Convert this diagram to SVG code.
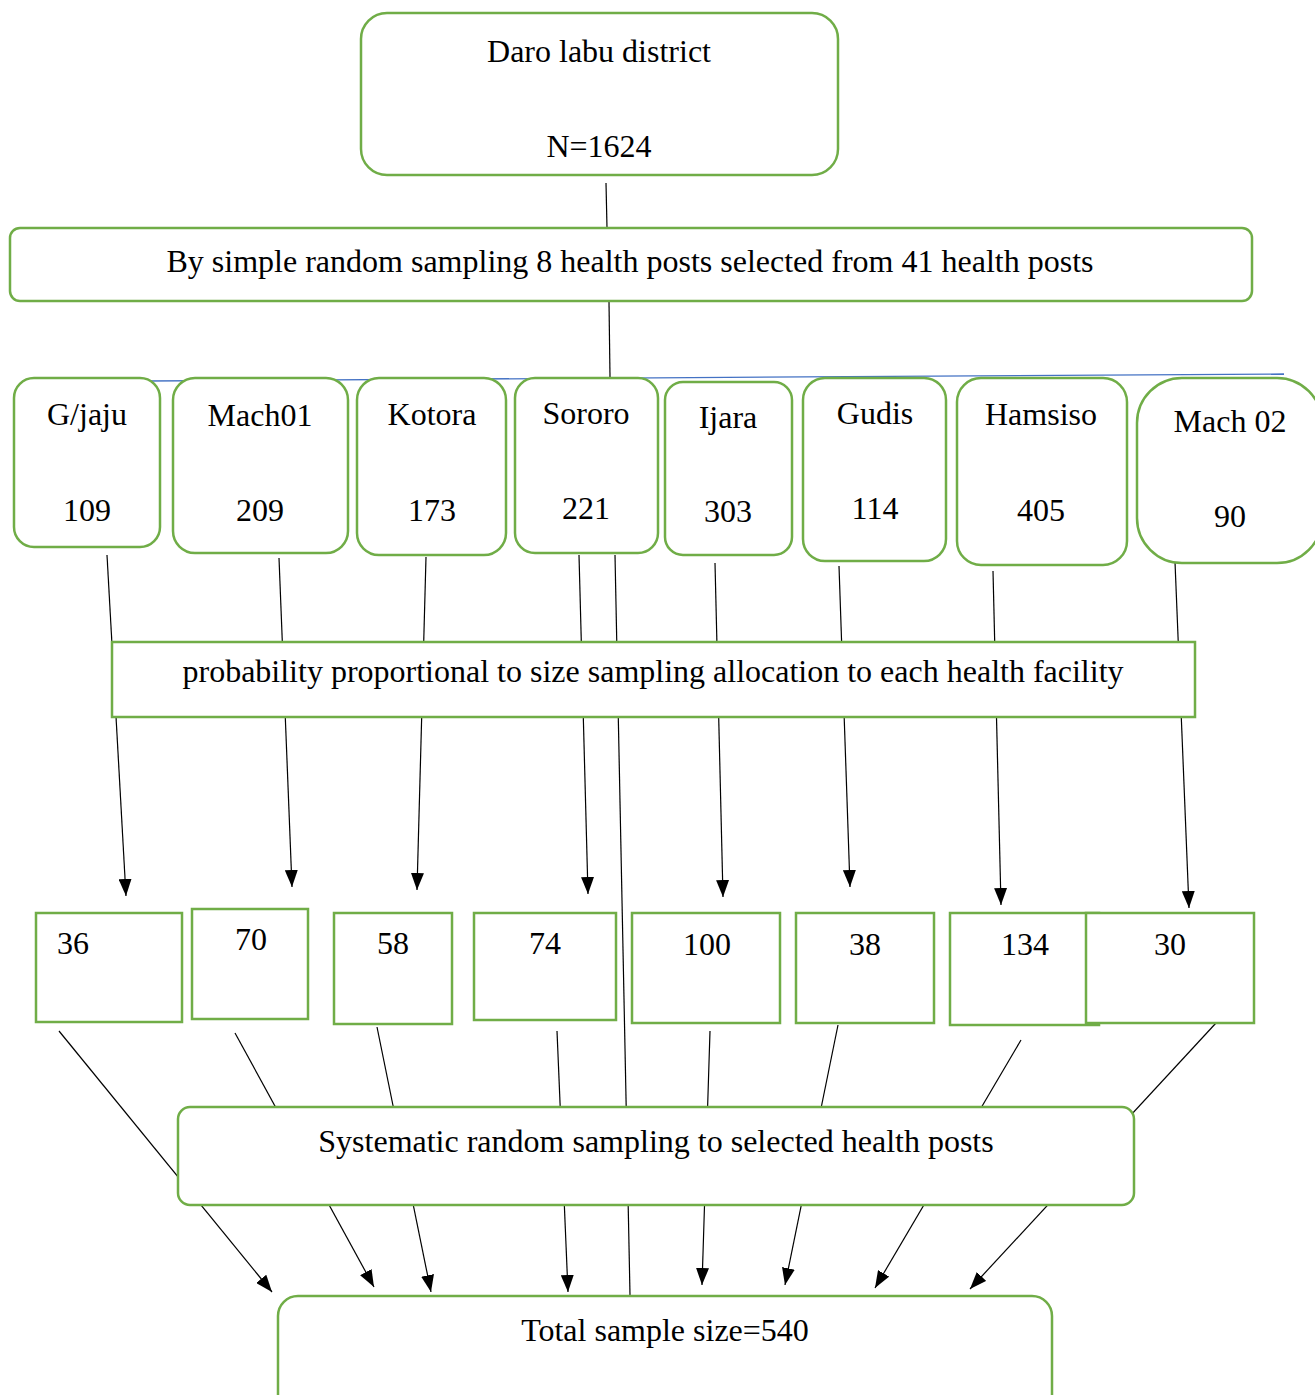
<svg xmlns="http://www.w3.org/2000/svg" width="1315" height="1395" viewBox="0 0 1315 1395">
<style>
.box{fill:#fff;stroke:#70AD47;stroke-width:2.5}
.t{font-family:"Liberation Serif","Times New Roman",serif;font-size:32px;fill:#000;text-anchor:middle}
.c{stroke:#000;stroke-width:1.2;fill:none}
.ca{stroke:#000;stroke-width:1.2;fill:none;marker-end:url(#ah)}
</style>
<defs>
<marker id="ah" markerUnits="userSpaceOnUse" markerWidth="18" markerHeight="13" refX="17" refY="6.5" orient="auto">
<path d="M0,0 L17,6.5 L0,13 z" fill="#000"/>
</marker>
</defs>
<rect width="1315" height="1395" fill="#fff"/>
<g id="connectors">
<line x1="147" y1="381" x2="1284" y2="374" stroke="#4472C4" stroke-width="1.3"/>
<line class="c" x1="606" y1="183" x2="607" y2="228"/>
<line class="c" x1="609" y1="302" x2="610" y2="377"/>
<line class="ca" x1="107" y1="555" x2="126" y2="896"/>
<line class="ca" x1="279" y1="558" x2="292" y2="887"/>
<line class="ca" x1="426" y1="557" x2="417" y2="890"/>
<line class="ca" x1="579" y1="555" x2="588" y2="894"/>
<line class="ca" x1="715" y1="563" x2="723" y2="897"/>
<line class="ca" x1="839" y1="566" x2="850" y2="887"/>
<line class="ca" x1="993" y1="571" x2="1001" y2="905"/>
<line class="ca" x1="1175" y1="562" x2="1189" y2="908"/>
<line class="c" x1="615" y1="555" x2="630" y2="1295"/>
<line class="ca" x1="59" y1="1031" x2="272" y2="1292"/>
<line class="ca" x1="235" y1="1033" x2="374" y2="1287"/>
<line class="ca" x1="377" y1="1027" x2="431" y2="1292"/>
<line class="ca" x1="557" y1="1031" x2="568" y2="1292"/>
<line class="ca" x1="710" y1="1031" x2="702" y2="1285"/>
<line class="ca" x1="838" y1="1025" x2="785" y2="1285"/>
<line class="ca" x1="1021" y1="1040" x2="875" y2="1288"/>
<line class="ca" x1="1216" y1="1023" x2="970" y2="1289"/>
</g>
<g id="district">
<rect class="box" x="361" y="13" width="477" height="162" rx="26"/>
<text class="t" x="599" y="62">Daro labu district</text>
<text class="t" x="599" y="157">N=1624</text>
</g>
<g id="srs">
<rect class="box" x="10" y="228" width="1242" height="73" rx="10"/>
<text class="t" x="630" y="272">By simple random sampling 8 health posts selected from 41 health posts</text>
</g>
<g id="hp-gjaju">
<rect class="box" x="14" y="378" width="146" height="169" rx="20"/>
<text class="t" x="87" y="425">G/jaju</text>
<text class="t" x="87" y="521">109</text>
</g>
<g id="hp-mach01">
<rect class="box" x="173" y="378" width="175" height="175" rx="22"/>
<text class="t" x="260" y="426">Mach01</text>
<text class="t" x="260" y="521">209</text>
</g>
<g id="hp-kotora">
<rect class="box" x="357" y="378" width="149" height="177" rx="22"/>
<text class="t" x="432" y="425">Kotora</text>
<text class="t" x="432" y="521">173</text>
</g>
<g id="hp-sororo">
<rect class="box" x="515" y="378" width="143" height="175" rx="20"/>
<text class="t" x="586" y="424">Sororo</text>
<text class="t" x="586" y="519">221</text>
</g>
<g id="hp-ijara">
<rect class="box" x="665" y="382" width="127" height="173" rx="18"/>
<text class="t" x="728" y="428">Ijara</text>
<text class="t" x="728" y="522">303</text>
</g>
<g id="hp-gudis">
<rect class="box" x="803" y="378" width="143" height="183" rx="22"/>
<text class="t" x="875" y="424">Gudis</text>
<text class="t" x="875" y="519">114</text>
</g>
<g id="hp-hamsiso">
<rect class="box" x="957" y="378" width="170" height="187" rx="24"/>
<text class="t" x="1041" y="425">Hamsiso</text>
<text class="t" x="1041" y="521">405</text>
</g>
<g id="hp-mach02">
<rect class="box" x="1137" y="378" width="185" height="185" rx="45"/>
<text class="t" x="1230" y="432">Mach 02</text>
<text class="t" x="1230" y="527">90</text>
</g>
<g id="pps">
<rect class="box" x="112" y="642" width="1083" height="75"/>
<text class="t" x="653" y="682">probability proportional to size sampling allocation to each health facility</text>
</g>
<g id="n36">
<rect class="box" x="36" y="913" width="146" height="109"/>
<text class="t" x="73" y="954">36</text>
</g>
<g id="n70">
<rect class="box" x="192" y="909" width="116" height="110"/>
<text class="t" x="251" y="950">70</text>
</g>
<g id="n58">
<rect class="box" x="334" y="913" width="118" height="111"/>
<text class="t" x="393" y="954">58</text>
</g>
<g id="n74">
<rect class="box" x="474" y="913" width="142" height="107"/>
<text class="t" x="545" y="954">74</text>
</g>
<g id="n100">
<rect class="box" x="632" y="913" width="148" height="110"/>
<text class="t" x="707" y="955">100</text>
</g>
<g id="n38">
<rect class="box" x="796" y="913" width="138" height="110"/>
<text class="t" x="865" y="955">38</text>
</g>
<g id="n134">
<rect class="box" x="950" y="913" width="149" height="112"/>
<text class="t" x="1025" y="955">134</text>
</g>
<g id="n30">
<rect class="box" x="1086" y="913" width="168" height="110"/>
<text class="t" x="1170" y="955">30</text>
</g>
<g id="systematic">
<rect class="box" x="178" y="1107" width="956" height="98" rx="12"/>
<text class="t" x="656" y="1152">Systematic random sampling to selected health posts</text>
</g>
<g id="total">
<rect class="box" x="278" y="1296" width="774" height="120" rx="20"/>
<text class="t" x="665" y="1341">Total sample size=540</text>
</g>
</svg>
